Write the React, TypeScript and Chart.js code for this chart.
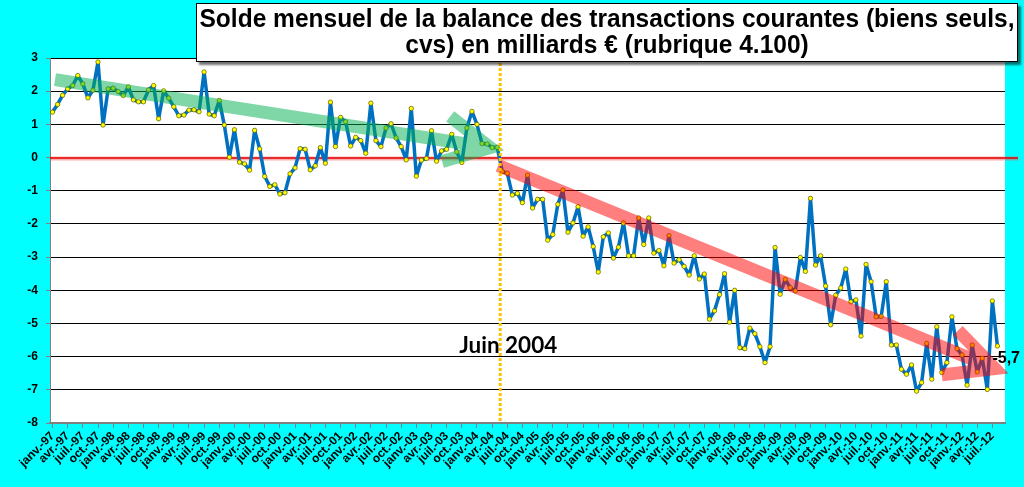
import React, { useEffect, useRef } from "react";
import { Chart, registerables } from "chart.js";

Chart.register(...registerables);

// ---- Category axis (monthly, janv. 1997 -> sept. 2012) ----
const MONTHS = ["janv.", "févr.", "mars", "avr.", "mai", "juin", "juil.", "août", "sept.", "oct.", "nov.", "déc."];
const YEARS = ["97", "98", "99", "00", "01", "02", "03", "04", "05", "06", "07", "08", "09", "10", "11", "12"];
const CATEGORY_COUNT = 189;
const CATEGORIES = YEARS.flatMap((y) => MONTHS.map((m) => `${m}-${y}`)).slice(0, CATEGORY_COUNT);

// ---- Monthly balance (milliards €) ----
const SOLDE_1997_2000 = [
  1.37, 1.6, 1.88, 2.07, 2.17, 2.47, 2.22, 1.8, 2.03, 2.88, 0.98, 2.07,
  2.09, 1.99, 1.87, 2.13, 1.74, 1.68, 1.68, 2.04, 2.17, 1.17, 2.01, 1.79,
  1.53, 1.26, 1.28, 1.43, 1.44, 1.38, 2.58, 1.31, 1.26, 1.72, 0.98, 0.01,
  0.84, -0.14, -0.19, -0.38, 0.82, 0.26, -0.57, -0.87, -0.82, -1.1, -1.06, -0.49,
];
const SOLDE_2001_2004 = [
  -0.31, 0.27, 0.25, -0.37, -0.25, 0.3, -0.17, 1.67, 0.33, 1.21, 1.08, 0.35,
  0.61, 0.51, 0.13, 1.64, 0.51, 0.33, 0.89, 1.02, 0.59, 0.33, -0.07, 1.48,
  -0.56, -0.08, -0.03, 0.81, -0.11, 0.2, 0.25, 0.7, 0.17, -0.15, 0.89, 1.39,
  1.0, 0.42, 0.41, 0.3, 0.31, -0.42, -0.47, -1.13, -1.08, -1.36, -0.53, -1.52,
];
const SOLDE_2005_2008 = [
  -1.26, -1.26, -2.49, -2.32, -1.41, -0.98, -2.25, -1.97, -1.48, -2.37, -2.09, -2.68,
  -3.45, -2.39, -2.27, -3.03, -2.7, -1.97, -2.96, -2.96, -1.82, -2.62, -1.82, -2.88,
  -2.8, -3.26, -2.35, -3.18, -3.08, -3.28, -3.54, -2.96, -3.66, -3.51, -4.87, -4.62,
  -4.13, -3.5, -4.96, -4.0, -5.73, -5.76, -5.14, -5.31, -5.7, -6.18, -5.7, -2.71,
];
const SOLDE_2009_2012 = [
  -4.12, -3.67, -3.92, -4.02, -3.01, -3.43, -1.23, -3.24, -2.96, -3.87, -5.04, -4.15,
  -3.93, -3.36, -4.35, -4.29, -5.38, -3.22, -3.74, -4.8, -4.79, -3.74, -5.65, -5.65,
  -6.38, -6.53, -6.25, -7.04, -6.78, -5.6, -6.68, -5.1, -6.48, -6.18, -4.8, -5.76,
  -5.95, -6.86, -5.65, -6.46, -6.05, -6.99, -4.32, -5.68,
];
const SOLDE: (number | null)[] = [...SOLDE_1997_2000, ...SOLDE_2001_2004, ...SOLDE_2005_2008, ...SOLDE_2009_2012];
while (SOLDE.length < CATEGORY_COUNT) SOLDE.push(null);

// ---- Y axis ----
const Y_MIN = -8;
const Y_MAX = 3;
const Y_STEP = 1;

// ---- Texts ----
const TITLE_LINE_1 = "Solde mensuel de la balance des transactions courantes (biens seuls,";
const TITLE_LINE_2 = "cvs) en milliards € (rubrique 4.100)";
const EVENT_LABEL = "Juin 2004";
const EVENT_CATEGORY = "juin-04";
const LAST_LABEL = "-5,7";

// ---- Trend arrows (data space: [category index, value]) ----
const GREEN_ARROW = { from: [0.5, 2.35], tip: [86.6, 0.3], heads: [[78.7, 1.24], [77.1, -0.12]] };
const RED_ARROW = { from: [88.2, -0.24], tip: [186.5, -6.36], heads: [[179.2, -5.21], [176.0, -6.55]] };

const FONT = "'Liberation Sans', Arial, sans-serif";

function drawArrow(chart: any, arrow: any, color: string) {
  const { ctx, scales } = chart;
  const px = (p: number[]) => [scales.x.getPixelForValue(p[0]), scales.y.getPixelForValue(p[1])];
  const f = px(arrow.from);
  const t = px(arrow.tip);
  const h1 = px(arrow.heads[0]);
  const h2 = px(arrow.heads[1]);
  ctx.save();
  ctx.strokeStyle = color;
  ctx.lineWidth = 13;
  ctx.lineCap = "butt";
  ctx.lineJoin = "miter";
  ctx.beginPath();
  ctx.moveTo(f[0], f[1]);
  ctx.lineTo(t[0], t[1]);
  ctx.moveTo(h1[0], h1[1]);
  ctx.lineTo(t[0], t[1]);
  ctx.lineTo(h2[0], h2[1]);
  ctx.stroke();
  ctx.restore();
}

const decorPlugin = {
  id: "decor",
  beforeDraw(chart: any) {
    const { ctx, chartArea: a, width, height } = chart;
    ctx.save();
    ctx.fillStyle = "#00FFFF";
    ctx.fillRect(0, 0, width, height);
    ctx.fillStyle = "#FFFFFF";
    ctx.fillRect(a.left, a.top, a.right - a.left, a.bottom - a.top);
    ctx.restore();
  },
  beforeDatasetsDraw(chart: any) {
    const { ctx, chartArea: a, scales } = chart;
    const y0 = Math.round(scales.y.getPixelForValue(0));
    ctx.save();
    ctx.strokeStyle = "rgba(255,70,70,0.45)";
    ctx.lineWidth = 4;
    ctx.beginPath();
    ctx.moveTo(a.left, y0 + 0.5);
    ctx.lineTo(a.right + 13, y0 + 0.5);
    ctx.stroke();
    ctx.strokeStyle = "#E00000";
    ctx.lineWidth = 1.5;
    ctx.beginPath();
    ctx.moveTo(a.left, y0);
    ctx.lineTo(a.right + 13, y0);
    ctx.stroke();
    ctx.restore();
  },
  afterDatasetsDraw(chart: any) {
    const { ctx, chartArea: a, scales } = chart;
    drawArrow(chart, GREEN_ARROW, "rgba(0,176,80,0.5)");
    drawArrow(chart, RED_ARROW, "rgba(255,0,0,0.5)");

    // dotted event line
    const ev = CATEGORIES.indexOf(EVENT_CATEGORY) - 0.4;
    const xe = scales.x.getPixelForValue(ev);
    ctx.save();
    ctx.strokeStyle = "#FFC000";
    ctx.lineWidth = 3;
    ctx.setLineDash([3, 2]);
    ctx.beginPath();
    ctx.moveTo(xe, a.top);
    ctx.lineTo(xe, a.bottom);
    ctx.stroke();
    ctx.setLineDash([]);

    // event label
    ctx.fillStyle = "#000";
    ctx.font = `bold 20px Lato, 'Open Sans', sans-serif`;
    const w = ctx.measureText(EVENT_LABEL).width;
    const size = (20 * 98) / w;
    ctx.font = `bold ${size.toFixed(2)}px Lato, 'Open Sans', sans-serif`;
    ctx.textAlign = "center";
    ctx.textBaseline = "middle";
    ctx.fillText(EVENT_LABEL, xe + 8, scales.y.getPixelForValue(-5.67));

    // last value label
    const lastIdx = SOLDE_1997_2000.length + SOLDE_2001_2004.length + SOLDE_2005_2008.length + SOLDE_2009_2012.length - 1;
    ctx.font = `bold 16px ${FONT}`;
    ctx.textAlign = "left";
    ctx.fillText(LAST_LABEL, scales.x.getPixelForValue(lastIdx) - 5, scales.y.getPixelForValue(-6.06));
    ctx.restore();
  },
  afterDraw(chart: any) {
    const { ctx } = chart;
    const bx = 196, by = 3, bw = 822, bh = 59;
    ctx.save();
    ctx.shadowColor = "rgba(0,0,0,0.55)";
    ctx.shadowOffsetX = 3;
    ctx.shadowOffsetY = 3;
    ctx.shadowBlur = 2;
    ctx.fillStyle = "#FFFFFF";
    ctx.fillRect(bx, by, bw, bh);
    ctx.restore();
    ctx.save();
    ctx.strokeStyle = "#000";
    ctx.lineWidth = 1;
    ctx.strokeRect(bx + 0.5, by + 0.5, bw - 1, bh - 1);
    const cx = bx + bw / 2;
    ctx.font = `bold 25px 'Liberation Sans Narrow', ${FONT}`;
    const w1 = ctx.measureText(TITLE_LINE_1).width;
    const sx = 815 / w1;
    ctx.fillStyle = "#000";
    ctx.textAlign = "center";
    ctx.textBaseline = "middle";
    ctx.translate(cx, 0);
    ctx.scale(sx, 1);
    ctx.fillText(TITLE_LINE_1, 0, 20);
    ctx.fillText(TITLE_LINE_2, 0, 46);
    ctx.restore();
  },
};

export default function App() {
  const ref = useRef<HTMLCanvasElement>(null);
  useEffect(() => {
    const canvas = ref.current;
    if (!canvas) return;
    const chart = new Chart(canvas, {
      type: "line",
      data: {
        labels: CATEGORIES,
        datasets: [
          {
            data: SOLDE,
            borderColor: "#0070C0",
            borderWidth: 3.5,
            borderJoinStyle: "round",
            borderCapStyle: "round",
            pointRadius: 2.2,
            pointBackgroundColor: "#FFFF00",
            pointBorderColor: "#5a5a00",
            pointBorderWidth: 0.7,
            tension: 0,
          },
        ],
      },
      options: {
        responsive: false,
        animation: false,
        layout: { padding: { top: 58, right: 19, left: 0, bottom: 0 } },
        plugins: { legend: { display: false }, title: { display: false }, tooltip: { enabled: false } },
        events: [],
        scales: {
          x: {
            type: "category",
            offset: true,
            afterFit: (s: any) => {
              s.height = 64;
            },
            border: { display: true, color: "#808080", width: 2 },
            grid: {
              drawOnChartArea: false,
              drawTicks: true,
              tickLength: 5,
              offset: false,
              color: (c: any) => (c.index % 3 === 0 ? "#808080" : "rgba(0,0,0,0)"),
            },
            ticks: {
              autoSkip: false,
              maxRotation: 45,
              minRotation: 45,
              padding: 1,
              color: "#000",
              font: { family: FONT, size: 12, weight: "bold" },
              callback: (_v: any, i: number) => (i % 3 === 0 ? CATEGORIES[i] : ""),
            },
          },
          y: {
            min: Y_MIN,
            max: Y_MAX,
            afterFit: (s: any) => {
              s.width = 50;
            },
            border: { display: true, color: "#808080", width: 1 },
            grid: {
              color: (c: any) => (c.tick && (c.tick.value === Y_MIN || c.tick.value === 0) ? "rgba(0,0,0,0)" : "#000000"),
              tickColor: "#808080",
              tickLength: 4,
              lineWidth: 1,
            },
            ticks: {
              stepSize: Y_STEP,
              padding: 8,
              color: "#000",
              font: { family: FONT, size: 12, weight: "bold" },
            },
          },
        },
      },
      plugins: [decorPlugin],
    } as any);
    return () => chart.destroy();
  }, []);
  return (
    <div style={{ position: "fixed", left: 0, top: 0, width: 1024, height: 487 }}>
      <canvas ref={ref} width={1024} height={487} style={{ display: "block", width: 1024, height: 487 }} />
    </div>
  );
}
